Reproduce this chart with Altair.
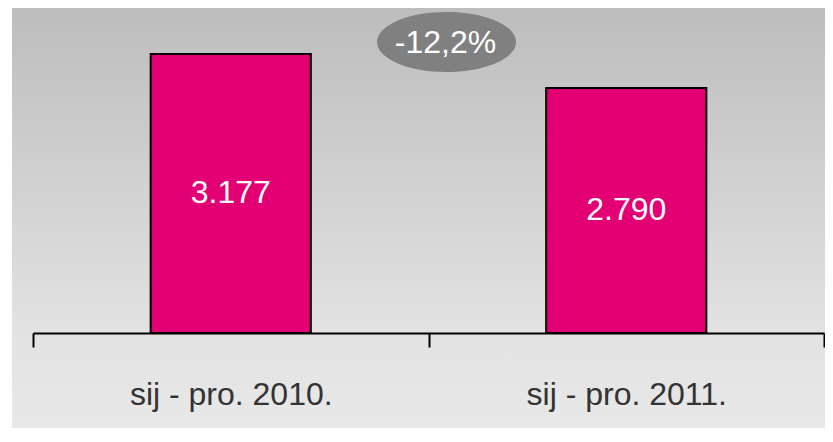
import altair as alt
import pandas as pd

categories = ["sij - pro. 2010.", "sij - pro. 2011."]
values = [3177, 2790]
value_labels = ["3.177", "2.790"]

change = (values[1] - values[0]) / values[0] * 100
change_label = f"{change:.1f}".replace(".", ",") + "%"

df = pd.DataFrame({"cat": categories, "val": values, "lbl": value_labels})
ann = pd.DataFrame({"cat": [categories[0]], "val": [values[0]], "lbl": [change_label]})

FONT = "Liberation Sans, Arial, sans-serif"

xscale = alt.Scale(domain=categories, range=[21, 812], paddingInner=0, paddingOuter=0)
yscale = alt.Scale(domain=[0, 3700], range=[325, 0])

bg = alt.Chart(ann).mark_rect(
    color=alt.LinearGradient(
        gradient="linear", x1=0, y1=0, x2=0, y2=1,
        stops=[alt.GradientStop(offset=0, color="#bdbdbd"),
               alt.GradientStop(offset=0.79, color="#e3e3e3"),
               alt.GradientStop(offset=1, color="#e8e8e8")],
    )
).encode(
    x=alt.value(0), x2=alt.value("width"), y=alt.value(0), y2=alt.value("height")
)

base = alt.Chart(df)

bars = base.mark_bar(
    width=alt.RelativeBandSize(0.405), color="#E20074", stroke="#000000", strokeWidth=2
).encode(
    x=alt.X("cat:N", scale=xscale, sort=categories,
            axis=alt.Axis(title=None, labelAngle=0, domainColor="#000000", domainWidth=2,
                          tickColor="#000000", tickWidth=2, tickSize=14, tickBand="extent",
                          labelFont=FONT, labelFontSize=32, labelColor="#333333",
                          labelLimit=0, labelPadding=32, offset=-95, grid=False, zindex=1)),
    y=alt.Y("val:Q", scale=yscale, axis=None),
)

texts = base.transform_calculate(half="datum.val / 2").mark_text(
    font=FONT, fontSize=32, color="#ffffff", baseline="middle", align="center"
).encode(
    x=alt.X("cat:N", scale=xscale, sort=categories),
    y=alt.Y("half:Q", scale=yscale),
    text="lbl:N",
)

ellipse = alt.Chart(ann).mark_point(
    shape="M-1,0A1,0.4317,0,1,1,1,0A1,0.4317,0,1,1,-1,0Z",
    size=19321, filled=True, fill="#808080", opacity=1, strokeWidth=0,
    xOffset=18, yOffset=-12,
).encode(
    x=alt.X("cat:N", scale=xscale, sort=categories, bandPosition=1),
    y=alt.Y("val:Q", scale=yscale),
)

pct = alt.Chart(ann).mark_text(
    font=FONT, fontSize=32, color="#ffffff", baseline="middle", align="center",
    xOffset=17, yOffset=-11,
).encode(
    x=alt.X("cat:N", scale=xscale, sort=categories, bandPosition=1),
    y=alt.Y("val:Q", scale=yscale),
    text="lbl:N",
)

chart = alt.layer(bg, bars, texts, ellipse, pct).properties(
    width=813, height=420,
    autosize=alt.AutoSizeParams(type="none"),
    padding={"left": 4, "top": 0, "right": 0, "bottom": 0},
).configure_view(strokeWidth=0)

chart.save("out.html", embed_options={"renderer": "svg", "actions": False})
